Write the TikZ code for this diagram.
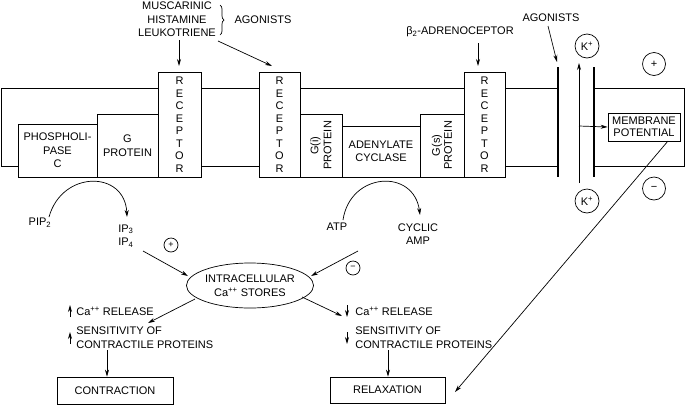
\documentclass[tikz,border=0pt]{standalone}
\usepackage{fontspec}
\setmainfont{Liberation Sans}
\usetikzlibrary{arrows.meta,shapes.geometric,decorations.pathreplacing}
\begin{document}
\begin{tikzpicture}[x=1pt,y=-1pt,line width=0.7pt,
  font=\fontsize{11}{13.5}\selectfont,
  box/.style={draw,inner sep=0pt,align=center},
  txt/.style={inner sep=0pt,align=center},
  recbox/.style={box,minimum height=105pt,font=\fontsize{11}{12.5}\selectfont},
  arr/.style={-{Stealth[length=7pt,width=4pt]}},
  bigsign/.style={circle,draw,inner sep=0pt,minimum size=23pt},
  kion/.style={circle,draw,inner sep=0pt,minimum size=24pt},
  smallsign/.style={circle,draw,inner sep=0pt,minimum size=14pt,font=\fontsize{9}{10}\selectfont},
  channel/.style={line width=2.8pt}]
\useasboundingbox (0,0) rectangle (685,405);

% membrane lines
\draw (158,88) -- (1,88) -- (1,166) -- (18,166);
\draw (201,88) -- (259,88);
\draw (300,88) -- (464,88);
\draw (505,88) -- (558,88);
\draw (594,88) -- (684,88) -- (684,166) -- (594,166);
\draw (201,166) -- (259,166);
\draw (505,166) -- (558,166);

% boxes in the membrane
\node[box,minimum width=79pt,minimum height=53pt] (plc) at (57.5,150.5) {PHOSPHOLI-\\PASE\\C};
\node[box,minimum width=61pt,minimum height=63pt] (gp) at (127.5,145.5) {G\\PROTEIN};
\node[recbox,minimum width=43pt] (rec1) at (179.5,124.5) {R\\E\\C\\E\\P\\T\\O\\R};
\node[recbox,minimum width=41pt] (rec2) at (279.5,124.5) {R\\E\\C\\E\\P\\T\\O\\R};
\node[box,minimum width=42pt,minimum height=63pt] (gi) at (321,145.5) {};
\node[txt,rotate=90,font=\fontsize{11}{13}\selectfont] (gitxt) at (gi) {G(i)\\PROTEIN};
\node[box,minimum width=78pt,minimum height=51pt] (ac) at (381,151.5) {ADENYLATE\\CYCLASE};
\node[box,minimum width=44pt,minimum height=63pt] (gs) at (442,145.5) {};
\node[txt,rotate=90,font=\fontsize{11}{12}\selectfont] (gstxt) at (gs) {G(s)\\PROTEIN};
\node[recbox,minimum width=41pt] (rec3) at (484.5,124.5) {R\\E\\C\\E\\P\\T\\O\\R};

% channel
\draw[channel] (558,67) -- (558,177);
\draw[channel] (594,67) -- (594,177);

% agonists left
\node[txt] (musc) at (177,19.5) {MUSCARINIC\\HISTAMINE\\LEUKOTRIENE};
\draw[decorate,decoration={brace,amplitude=4pt}] (220,5) -- (220,35);
\node[txt] (ag1) at (263,20) {AGONISTS};
\coordinate (m1a) at (179,40); \coordinate (m1b) at (179,66);
\coordinate (m2a) at (218,41); \coordinate (m2b) at (272,66);
\draw[arr] (m1a) -- (m1b);
\draw[arr] (m2a) -- (m2b);

% beta2
\node[txt] (beta) at (460,32) {β\textsubscript{2}-ADRENOCEPTOR};
\coordinate (b1) at (478,43); \coordinate (b2) at (478,66);
\draw[arr] (b1) -- (b2);

% agonists right
\node[txt] (ag2) at (551,18) {AGONISTS};
\coordinate (a2a) at (548,26); \coordinate (a2b) at (557,62);
\draw[arr] (a2a) -- (a2b);

% K+ ions
\node[kion] (kup) at (587,46) {K\textsuperscript{+}};
\node[kion] (kdn) at (587,201) {K\textsuperscript{+}};
\coordinate (kf1) at (579,183); \coordinate (kf2) at (579,63);
\draw[arr] (kf1) -- (kf2);

% membrane potential
\node[box,minimum width=72pt,minimum height=28pt,font=\fontsize{11}{12.5}\selectfont] (mp) at (644,127) {MEMBRANE\\POTENTIAL};
\coordinate (kmid) at (579,126);
\draw[arr] (kmid) -- (mp.west);
\node[bigsign] (plus) at (654,64) {+};
\node[bigsign] (minus) at (654,188.5) {−};

% second messengers
\node[txt] (pip) at (40,223) {PIP\textsubscript{2}};
\node[txt,anchor=west,align=left] (ip) at (118,236) {IP\textsubscript{3}\\IP\textsubscript{4}};
\coordinate (pipa) at (49,217); \coordinate (pipb) at (127,217);
\draw[arr] (pipa) .. controls (62,170) and (125,170) .. (pipb);
\node[smallsign] (ps) at (171,245) {+};

\node[txt] (atp) at (337,227) {ATP};
\node[txt] (camp) at (418,234) {CYCLIC\\AMP};
\coordinate (atpa) at (343,220); \coordinate (atpb) at (420,215);
\draw[arr] (atpa) .. controls (350,172) and (414,168) .. (atpb);
\node[smallsign] (ms) at (353,268) {−};

% calcium stores
\node[ellipse,draw,inner sep=0pt,minimum width=121pt,minimum height=45pt,align=center] (ics) at (250,285.5) {INTRACELLULAR\\Ca\textsuperscript{++} STORES};
\coordinate (i1) at (143,251); \coordinate (i2) at (188,276);
\draw[arr] (i1) -- (i2);
\coordinate (c1) at (358,251); \coordinate (c2) at (311,276);
\draw[arr] (c1) -- (c2);
\coordinate (o1) at (195,299); \coordinate (o2) at (148,323);
\draw[arr] (o1) -- (o2);
\coordinate (o3) at (302,297); \coordinate (o4) at (342,316);
\draw[arr] (o3) -- (o4);

% left effects
\node[txt,anchor=west] (lca) at (76,311) {Ca\textsuperscript{++} RELEASE};
\node[txt,anchor=west,align=left] (lsens) at (76,337.5) {SENSITIVITY OF\\CONTRACTILE PROTEINS};
\coordinate (lu1) at (70,317); \coordinate (lu2) at (70,305);
\draw[arr] (lu1) -- (lu2);
\coordinate (lu3) at (70,344); \coordinate (lu4) at (70,332);
\draw[arr] (lu3) -- (lu4);
\node[box,minimum width=116pt,minimum height=27pt] (contr) at (115,390.5) {CONTRACTION};
\coordinate (ld1) at (107,350);
\draw[arr] (ld1) -- (ld1 |- contr.north);

% right effects
\node[txt,anchor=west] (rca) at (355,311) {Ca\textsuperscript{++} RELEASE};
\node[txt,anchor=west,align=left] (rsens) at (355,337.5) {SENSITIVITY OF\\CONTRACTILE PROTEINS};
\coordinate (rd1) at (347,305); \coordinate (rd2) at (347,317);
\draw[arr] (rd1) -- (rd2);
\coordinate (rd3) at (347,332); \coordinate (rd4) at (347,344);
\draw[arr] (rd3) -- (rd4);
\node[box,minimum width=115pt,minimum height=26pt] (relax) at (387.5,390) {RELAXATION};
\coordinate (rd5) at (388,350);
\draw[arr] (rd5) -- (rd5 |- relax.north);

% membrane potential to relaxation
\coordinate (mpb) at (668,141); \coordinate (rx) at (455,392);
\draw[arr] (mpb) -- (rx);
\end{tikzpicture}
\end{document}
